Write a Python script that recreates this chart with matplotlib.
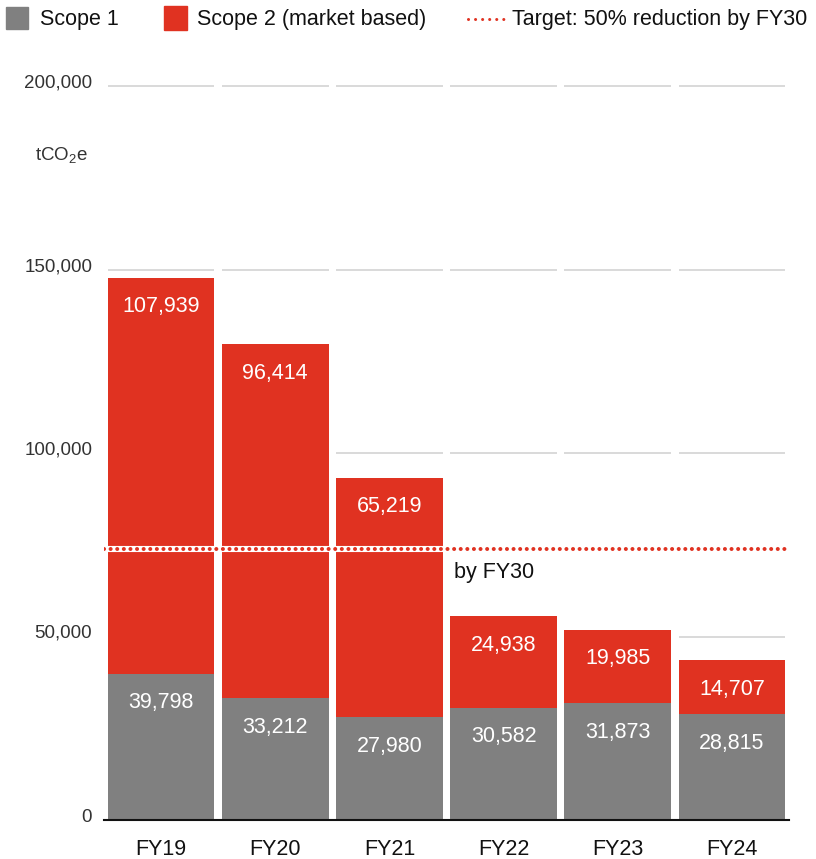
import matplotlib
matplotlib.use("Agg")
from matplotlib import pyplot as plt
from matplotlib import transforms
from matplotlib.patches import Rectangle
from matplotlib.lines import Line2D

plt.rcParams['font.family'] = ['Liberation Sans', 'DejaVu Sans']

years = ["FY19", "FY20", "FY21", "FY22", "FY23", "FY24"]
scope1 = [39798, 33212, 27980, 30582, 31873, 28815]
scope2 = [107939, 96414, 65219, 24938, 19985, 14707]
grid_values = [50000, 100000, 150000, 200000]
tick_labels = ["0", "50,000", "100,000", "150,000", "200,000"]

GREY = "#808080"
RED = "#e03221"
W, H = 816, 859

fig = plt.figure(figsize=(W / 100, H / 100), dpi=100)
ax = fig.add_axes([104 / W, 1 - 820 / H, 685 / W, (820 - 86) / H])

x = list(range(len(years)))
width = 0.935

# short gridline segments above each column
for v in grid_values:
    ax.hlines([v] * len(x), [i - width / 2 for i in x], [i + width / 2 for i in x],
              colors="#cfcfcf", lw=1.1, zorder=0, clip_on=False)

ax.bar(x, scope1, width=width, color=GREY, zorder=2)
ax.bar(x, scope2, width=width, bottom=scope1, color=RED, zorder=2)

for i in x:
    top = scope1[i] + scope2[i]
    ax.annotate(f"{scope2[i]:,}", (i, top), xytext=(0, -29), textcoords="offset pixels",
                ha="center", va="center", color="white", fontsize=15.5, zorder=3)
    ax.annotate(f"{scope1[i]:,}", (i, scope1[i]), xytext=(0, -29), textcoords="offset pixels",
                ha="center", va="center", color="white", fontsize=15.5, zorder=3)

# target: half of the FY19 total, dotted over a white band
target = (scope1[0] + scope2[0]) / 2
ax.axhline(target, color="white", lw=4.4, zorder=4)
ax.axhline(target, color=RED, lw=2.9, linestyle=(0, (0.01, 1.63)),
           dash_capstyle="round", zorder=5)
ax.annotate("by FY30", (2.57, target), xytext=(0, -24), textcoords="offset pixels",
            ha="left", va="center", fontsize=15.5, color="#111111")

ax.set_xlim(-0.5, 5.5)
ax.set_ylim(0, 200000)
ax.set_xticks(x)
ax.set_xticklabels(years, fontsize=15.5, color="#111111")
ax.set_yticks([0] + grid_values)
ax.set_yticklabels(tick_labels, fontsize=13.5, color="#333333")
ax.tick_params(axis="both", length=0)
ax.tick_params(axis="x", pad=14)
ax.tick_params(axis="y", pad=8.5)
lift = transforms.ScaledTranslation(0, 5 / 100, fig.dpi_scale_trans)
for lab in ax.get_yticklabels():
    lab.set_transform(lab.get_transform() + lift)
for s in ["top", "right", "left"]:
    ax.spines[s].set_visible(False)
ax.spines["bottom"].set_linewidth(1.5)
ax.spines["bottom"].set_color("#111111")
ax.spines["bottom"].set_zorder(6)

fig.text(88 / W, 1 - 156 / H, r"tCO$_\mathregular{2}$e", ha="right", va="center",
         fontsize=13.5, color="#333333")

# legend
ly = 1 - 19 / H
fig.add_artist(Rectangle((6 / W, 1 - 29 / H), 22 / W, 22 / H, transform=fig.transFigure,
                         color=GREY))
fig.text(40 / W, ly, "Scope 1", ha="left", va="center", fontsize=15.5, color="#111111")
fig.add_artist(Rectangle((164 / W, 1 - 30 / H), 23 / W, 24 / H, transform=fig.transFigure,
                         color=RED))
fig.text(197 / W, ly, "Scope 2 (market based)", ha="left", va="center", fontsize=15.5,
         color="#111111")
fig.add_artist(Line2D([468 / W, 504 / W], [ly, ly], transform=fig.transFigure, color=RED,
                      lw=2.2, linestyle=(0, (0.01, 2.3)), dash_capstyle="round"))
fig.text(512 / W, ly, "Target: 50% reduction by FY30", ha="left", va="center",
         fontsize=15.5, color="#111111")

fig.savefig("out.png", dpi=100)
